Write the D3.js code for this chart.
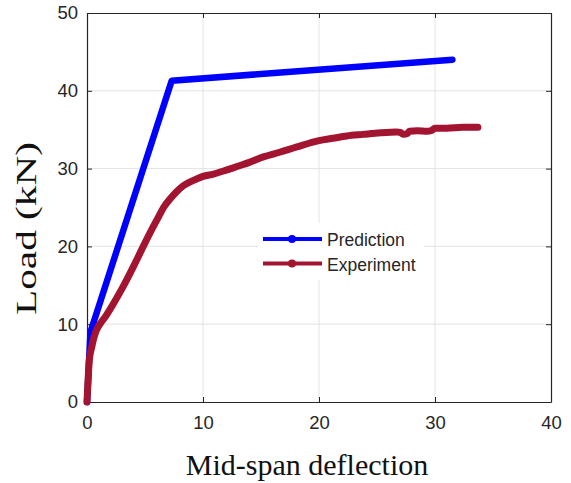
<!DOCTYPE html>
<html>
<head>
<meta charset="utf-8">
<script src="https://cdn.jsdelivr.net/npm/d3@7"></script>
<style>
  html, body { margin: 0; padding: 0; background: #fff; }
  svg { display: block; }
</style>
</head>
<body>
<svg id="chart" width="571" height="483"></svg>
<script>
// Load–deflection response: predicted vs. measured
const seriesNames = ["Prediction", "Experiment"];
const seriesColors = ["#0000ff", "#a2142f"];

const deflectionPred = [0, 0.3, 7.3, 31.5];
const loadPred       = [0, 9.0, 41.3, 44.0];

const deflectionExp = [0, 0.05, 0.2, 0.4, 0.55, 0.75, 0.98, 1.3, 1.6, 2.3, 3.1, 4.0, 4.85, 5.7, 6.2, 6.6, 7.1, 7.7, 8.3, 8.9, 9.5, 10.0, 10.9, 12.0, 13.0, 14.0, 15.2, 16.6, 18.1, 20.0, 21.2, 22.4, 23.8, 25.3, 26.7, 27.0, 27.3, 27.6, 27.8, 28.5, 29.3, 29.7, 30.0, 31.0, 32.4, 33.7];
const loadExp       = [0, 1.5, 5.4, 7.0, 8.0, 9.0, 9.7, 10.4, 11.0, 12.7, 14.8, 17.4, 20.0, 22.5, 23.9, 25.0, 26.0, 27.0, 27.8, 28.3, 28.7, 29.0, 29.3, 29.8, 30.3, 30.8, 31.5, 32.1, 32.8, 33.6, 33.9, 34.2, 34.4, 34.6, 34.7, 34.65, 34.4, 34.5, 34.8, 34.85, 34.8, 34.9, 35.2, 35.2, 35.3, 35.3];

const xTicks = [0, 10, 20, 30, 40];
const yTicks = [0, 10, 20, 30, 40, 50];
const xLabel = "Mid-span deflection";
const yLabel = "Load (kN)";

const svg = d3.select("#chart");
const plot = { left: 87, right: 551, top: 13, bottom: 402 };

const x = d3.scaleLinear().domain([0, 40]).range([plot.left, plot.right]);
const y = d3.scaleLinear().domain([0, 50]).range([plot.bottom, plot.top]);

const axisColor = "#262626";
const gridColor = "#e3e3e3";
const tickFont = "'Liberation Sans', Arial, sans-serif";
const labelFont = "'Liberation Serif', 'Times New Roman', serif";

// grid
const grid = svg.append("g");
grid.selectAll("line.gx").data(xTicks.slice(1, -1)).join("line")
  .attr("x1", d => x(d)).attr("x2", d => x(d))
  .attr("y1", plot.top).attr("y2", plot.bottom)
  .attr("stroke", gridColor).attr("stroke-width", 1);
grid.selectAll("line.gy").data(yTicks.slice(1, -1)).join("line")
  .attr("x1", plot.left).attr("x2", plot.right)
  .attr("y1", d => y(d)).attr("y2", d => y(d))
  .attr("stroke", gridColor).attr("stroke-width", 1);

// axes with inward ticks on all four sides
function styleAxis(g, showText) {
  g.select(".domain").attr("stroke", axisColor).attr("stroke-width", 1.2);
  g.selectAll(".tick line").attr("stroke", axisColor).attr("stroke-width", 1);
  g.selectAll(".tick text")
    .attr("fill", axisColor)
    .style("font-family", tickFont)
    .style("font-size", "18.5px")
    .style("display", showText ? null : "none");
}

svg.append("g").attr("transform", `translate(0,${plot.bottom})`)
  .call(d3.axisBottom(x).tickValues(xTicks).tickSizeInner(-5).tickSizeOuter(0).tickPadding(14))
  .call(g => styleAxis(g, true));
svg.append("g").attr("transform", `translate(0,${plot.top})`)
  .call(d3.axisTop(x).tickValues(xTicks).tickSizeInner(-5).tickSizeOuter(0))
  .call(g => styleAxis(g, false));
svg.append("g").attr("transform", `translate(${plot.left},0)`)
  .call(d3.axisLeft(y).tickValues(yTicks).tickSizeInner(-5).tickSizeOuter(0).tickPadding(9))
  .call(g => styleAxis(g, true));
svg.append("g").attr("transform", `translate(${plot.right},0)`)
  .call(d3.axisRight(y).tickValues(yTicks).tickSizeInner(-5).tickSizeOuter(0))
  .call(g => styleAxis(g, false));

// curves
const predLine = d3.line().x(d => x(d[0])).y(d => y(d[1]));
const expLine = d3.line().x(d => x(d[0])).y(d => y(d[1])).curve(d3.curveMonotoneX);
const predPts = d3.zip(deflectionPred, loadPred);
const expPts = d3.zip(deflectionExp, loadExp);

svg.append("path").datum(predPts)
  .attr("d", predLine).attr("fill", "none")
  .attr("stroke", seriesColors[0]).attr("stroke-width", 6.5)
  .attr("stroke-linecap", "round").attr("stroke-linejoin", "round");
svg.append("path").datum(expPts)
  .attr("d", expLine).attr("fill", "none")
  .attr("stroke", seriesColors[1]).attr("stroke-width", 7)
  .attr("stroke-linecap", "round").attr("stroke-linejoin", "round");

// legend
const legend = svg.append("g");
legend.append("rect")
  .attr("x", 258).attr("y", 223).attr("width", 166).attr("height", 57)
  .attr("fill", "#fff");
const entries = legend.selectAll("g.entry").data(seriesNames).join("g")
  .attr("transform", (d, i) => `translate(0,${239 + i * 24.5})`);
entries.append("line")
  .attr("x1", 263).attr("x2", 322).attr("y1", 0).attr("y2", 0)
  .attr("stroke", (d, i) => seriesColors[i]).attr("stroke-width", 4);
entries.append("circle")
  .attr("cx", 292).attr("cy", 0).attr("r", 4)
  .attr("fill", (d, i) => seriesColors[i]);
entries.append("text")
  .attr("x", 327).attr("y", 7)
  .attr("fill", axisColor)
  .style("font-family", tickFont).style("font-size", "17.5px")
  .text(d => d);

// axis titles
svg.append("text")
  .attr("x", 307).attr("y", 475)
  .attr("text-anchor", "middle")
  .attr("fill", "#111")
  .style("font-family", labelFont).style("font-size", "30px")
  .text(xLabel);
svg.append("text")
  .attr("transform", "translate(36,228.5) rotate(-90)")
  .attr("text-anchor", "middle")
  .attr("fill", "#111")
  .attr("textLength", 173).attr("lengthAdjust", "spacingAndGlyphs")
  .style("font-family", labelFont).style("font-size", "30px")
  .text(yLabel);
</script>
</body>
</html>
